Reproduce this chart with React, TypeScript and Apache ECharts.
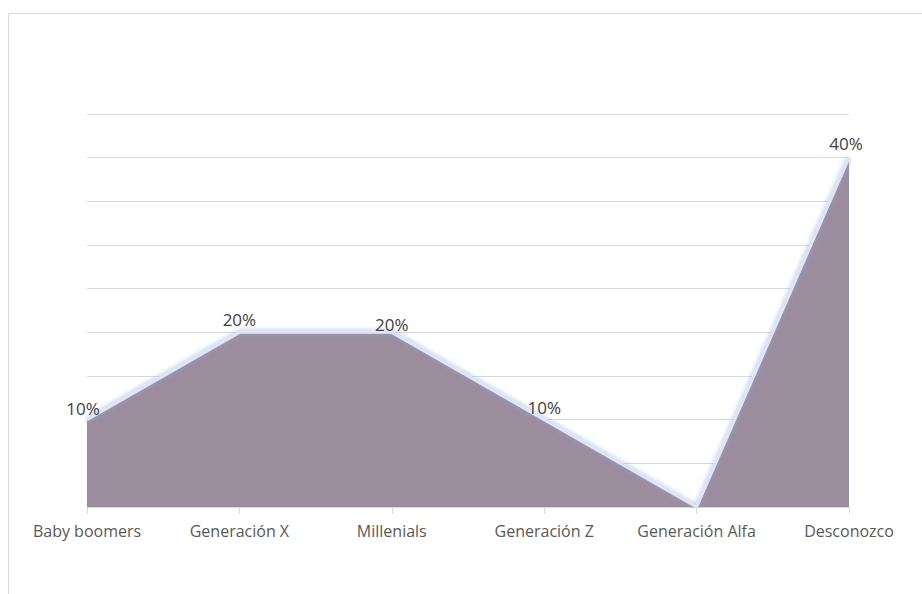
import React, { useEffect, useRef } from "react";
import * as echarts from "echarts";

const categories = ["Baby boomers", "Generación X", "Millenials", "Generación Z", "Generación Alfa", "Desconozco"];
const values = [10, 20, 20, 10, 0, 40];

export default function App() {
  const ref = useRef<HTMLDivElement>(null);
  useEffect(() => {
    if (!ref.current) return;
    const chart = echarts.init(ref.current, undefined, { renderer: "svg" });
    const font = "'Open Sans', 'Noto Sans', sans-serif";
    chart.setOption({
      animation: false,
      backgroundColor: "#ffffff",
      graphic: [
        {
          type: "rect",
          shape: { x: 8.5, y: 13.5, width: 1000, height: 1000 },
          style: { fill: "none", stroke: "#d9d9d9", lineWidth: 1 },
          silent: true,
        },
      ],
      grid: { left: 87, right: 73, top: 114, bottom: 87 },
      xAxis: {
        type: "category",
        data: categories,
        boundaryGap: false,
        axisLine: { lineStyle: { color: "#d9d9d9", width: 1 } },
        axisTick: { show: true, alignWithLabel: true, interval: 0, length: 7, lineStyle: { color: "#d9d9d9" } },
        axisLabel: { color: "#595959", fontSize: 16, fontFamily: font, margin: 16, interval: 0, hideOverlap: false },
      },
      yAxis: {
        type: "value",
        min: 0,
        max: 45,
        interval: 5,
        axisLine: { show: false },
        axisTick: { show: false },
        axisLabel: { show: false },
        splitLine: { lineStyle: { color: "#d9d9d9", width: 1 } },
      },
      series: [
        {
          type: "line",
          data: values.map((v, i) => ({
            value: v,
            label: i === 0 ? { offset: [-4, 1] } : i === 2 ? { offset: [0, 5] } : i === 5 ? { offset: [-3, -2] } : {},
          })),
          symbol: "circle",
          symbolSize: 2,
          showSymbol: true,
          itemStyle: { color: "rgba(0,0,0,0)" },
          z: 3,
          lineStyle: {
            color: "#dfe6f3",
            width: 3,
            shadowBlur: 5,
            shadowColor: "rgba(140,165,210,0.9)",
          },
          areaStyle: { color: "#9b8d9e", opacity: 1 },
          label: {
            show: true,
            position: "top",
            distance: 3,
            fontSize: 17,
            color: "#404040",
            fontFamily: font,
            formatter: (p: any) => (p.value === 0 ? "" : p.value + "%"),
          },
        },
      ],
    });
    return () => chart.dispose();
  }, []);
  return (
    <div
      ref={ref}
      style={{ position: "absolute", left: 0, top: 0, width: 922, height: 594 }}
    />
  );
}
